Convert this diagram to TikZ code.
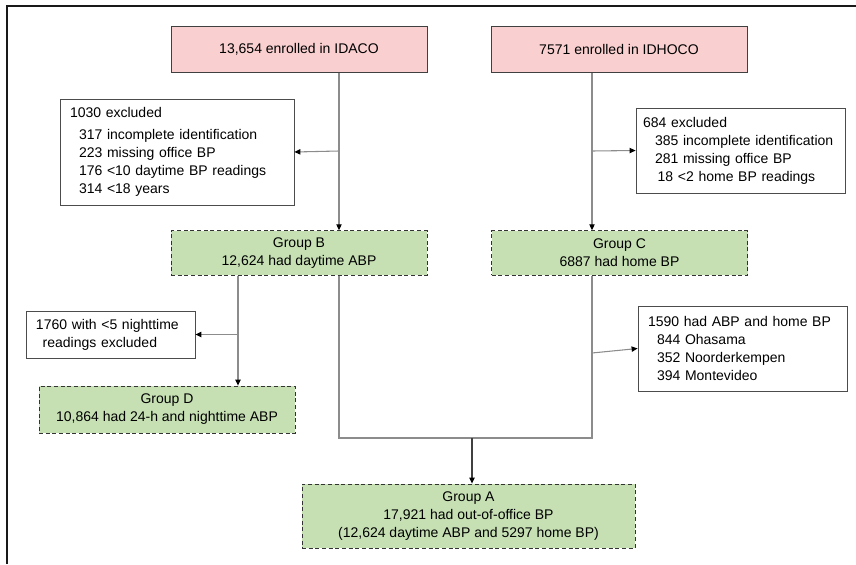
\documentclass[tikz,border=0pt]{standalone}
\usepackage{fontspec}
\setmainfont{Liberation Sans}
\usetikzlibrary{arrows.meta}
\definecolor{cohort}{HTML}{F9CFCF}
\definecolor{grp}{HTML}{C6E0B4}
\tikzset{
  cohortbox/.style={draw=black!75,fill=cohort,line width=0.6pt,inner sep=0pt,align=center},
  groupbox/.style={draw=black!80,fill=grp,densely dashed,line width=0.6pt,inner sep=0pt,align=center},
  exclbox/.style={draw=black!70,fill=white,line width=0.6pt,inner sep=0pt,inner xsep=7.5pt,align=left},
  link/.style={draw=black!45,line width=0.8pt},
  arr/.style={link,-{Triangle[width=4pt,length=4.5pt,black]}}
}
\begin{document}
\fontsize{10.5pt}{13.5pt}\selectfont
\begin{tikzpicture}[x=0.75pt,y=-0.75pt]
\useasboundingbox (0,0) rectangle (856,564);
\draw[black!90,line width=1.6pt] (7,564) -- (7,6) -- (856,6);

\node[cohortbox,minimum width=192pt,minimum height=35pt](idaco) at (299,49.5) {13,654 enrolled in IDACO};
\node[cohortbox,minimum width=192pt,minimum height=35pt](idhoco) at (619,49.5) {7571 enrolled in IDHOCO};

\node[exclbox,minimum width=175.5pt,minimum height=79.5pt,text width=160.5pt](exclB) at (177,152)
  {1030 excluded\\[3pt]
   \hspace*{6.75pt}317 incomplete identification\\
   \hspace*{6.75pt}223 missing office BP\\
   \hspace*{6.75pt}176 <10 daytime BP readings\\
   \hspace*{6.75pt}314 <18 years};
\node[exclbox,inner xsep=5.25pt,minimum width=156.75pt,minimum height=63.75pt,text width=146.25pt](exclC) at (740.5,150.5)
  {684 excluded\\
   \hspace*{9pt}385 incomplete identification\\
   \hspace*{9pt}281 missing office BP\\
   \hspace*{11pt}18 <2 home BP readings};

\node[groupbox,minimum width=192pt,minimum height=33.5pt](groupB) at (299,253) {Group B\\12,624 had daytime ABP};
\node[groupbox,minimum width=192pt,minimum height=33.5pt](groupC) at (619.5,253) {Group C\\6887 had home BP};

\node[exclbox,minimum width=126.75pt,minimum height=35.25pt,text width=111.75pt](exclD) at (110.5,334.5)
  {1760 with <5 nighttime\\
   \hspace*{5pt}readings excluded};
\node[groupbox,minimum width=192pt,minimum height=35.25pt](groupD) at (167,409.5) {Group D\\10,864 had 24-h and nighttime ABP};

\node[exclbox,minimum width=156.75pt,minimum height=63.75pt,text width=141.75pt](exclA) at (742.5,348.5)
  {1590 had ABP and home BP\\
   \hspace*{6.75pt}844 Ohasama\\
   \hspace*{6.75pt}352 Noorderkempen\\
   \hspace*{6.75pt}394 Montevideo};

\node[groupbox,minimum width=249.75pt,minimum height=48pt](groupA) at (468.5,516)
  {Group A\\17,921 had out-of-office BP\\(12,624 daytime ABP and 5297 home BP)};

% junctions
\coordinate (jB) at (339,151);
\coordinate (jC) at (592,151);
\coordinate (jD) at (238,334.5);
\coordinate (jA) at (592,353);
\coordinate (jM) at (472,438);

\draw[arr] (idaco.south -| jB) -- (groupB.north -| jB);
\draw[arr] (jB) -- (exclB.east);
\draw[arr] (idhoco.south -| jC) -- (groupC.north -| jC);
\draw[arr] (jC) -- (exclC.west);

\draw[arr] (groupB.south -| jD) -- (groupD.north -| jD);
\draw[arr] (jD) -- (exclD.east);
\draw[link] (groupB.south -| jB) |- (jM) -| (groupC.south -| jC);
\draw[arr] (jA) -- (exclA.west);
\draw[arr,draw=black!75] (jM) -- (groupA.north -| jM);
\end{tikzpicture}
\end{document}
